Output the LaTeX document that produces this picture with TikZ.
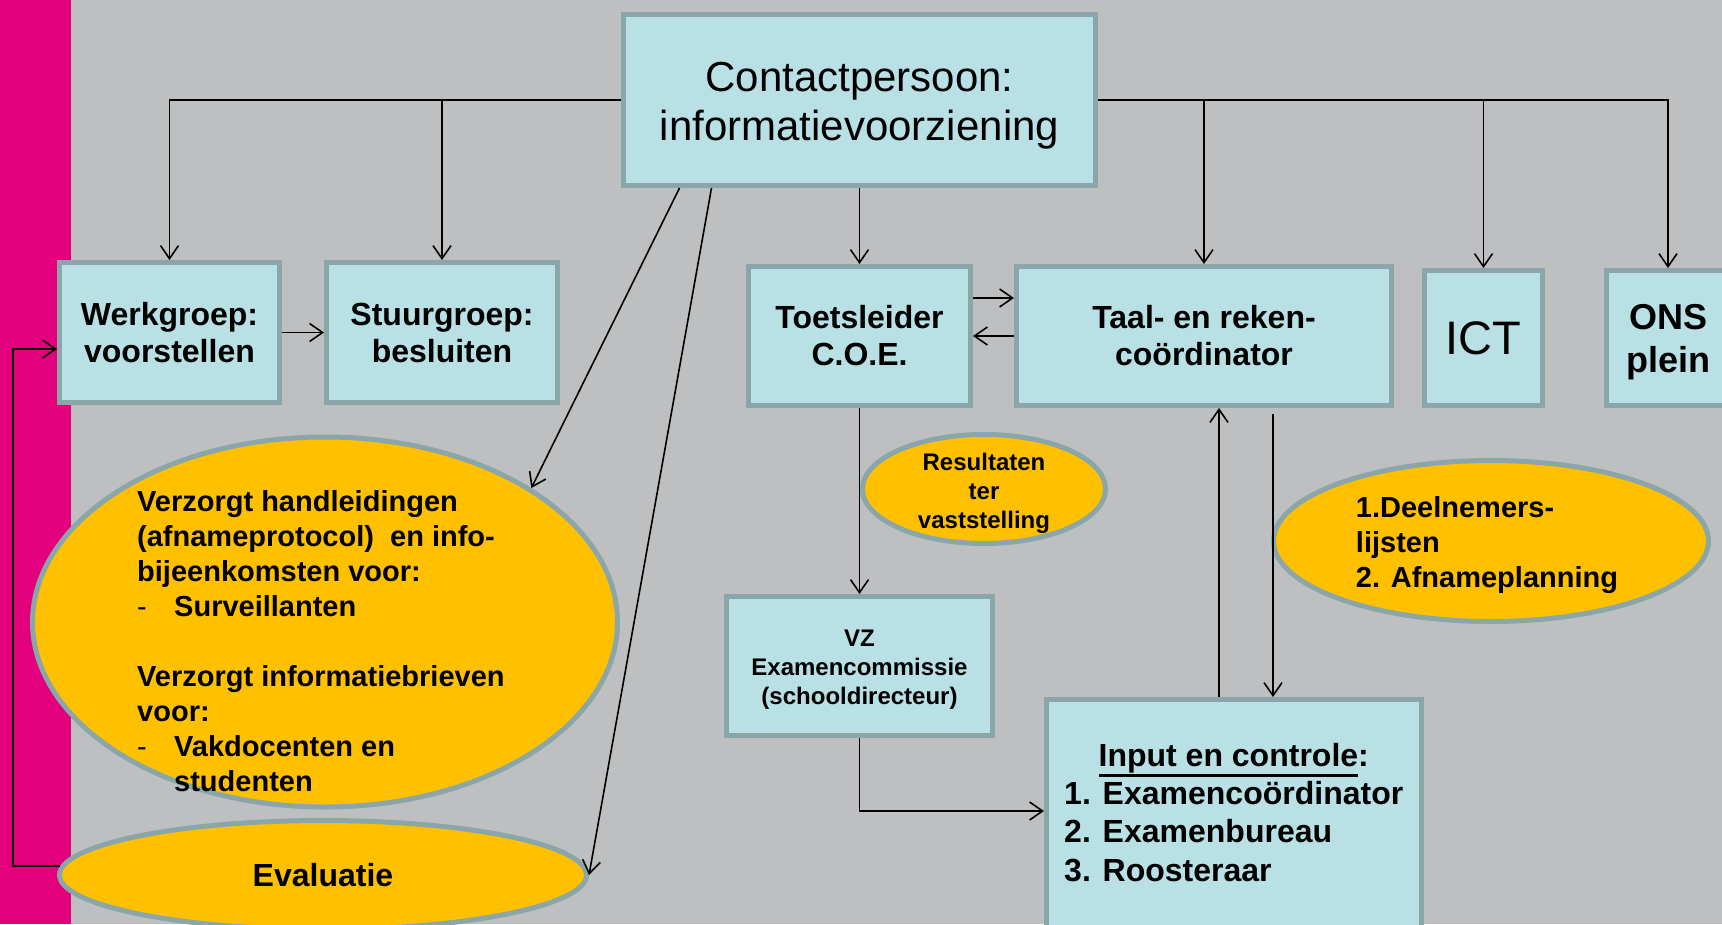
\documentclass[tikz,border=0pt]{standalone}
\usepackage{fontspec}
\setmainfont{Liberation Sans}
\usetikzlibrary{shapes.geometric,arrows.meta,calc}
\definecolor{bg}{RGB}{190,191,193}
\definecolor{pinkbar}{RGB}{227,0,124}
\definecolor{boxfill}{RGB}{185,224,228}
\definecolor{boxline}{RGB}{138,166,169}
\definecolor{ovalfill}{RGB}{255,192,0}
\newcommand\fsz[2]{\fontsize{#1}{#2}\selectfont}
\newcommand\dashitem[1]{\makebox[37pt][l]{\mdseries-}#1}
\newcommand\thickul[1]{\vtop{\hbox{#1}\kern1.5pt\hrule height 2.6pt}}
\tikzset{
  box/.style={draw=boxline, fill=boxfill, line width=5pt, inner sep=0pt, align=center, text=black},
  oval/.style={ellipse, draw=boxline, fill=ovalfill, line width=5pt, inner sep=0pt, text=black},
  conn/.style={line width=1.6pt, -{Straight Barb[length=13pt,width=18pt,line width=1.6pt]}},
  txt/.style={inner sep=0pt, text=black, align=center}
}
\begin{document}
\begin{tikzpicture}[x=1pt,y=-1pt]
\useasboundingbox (0,0) rectangle (1722,924);
\clip (0,0) rectangle (1722,924);
\fill[bg] (0,0) rectangle (1722,924);
\fill[pinkbar] (0,0) rectangle (71,924);

% boxes
\node[box, minimum width=472pt, minimum height=171pt] (contact) at (859.5,100) {};
\node[txt, font=\fsz{42}{49}] (contacttext) at (859.5,106) {Contactpersoon:\\informatievoorziening};
\node[box, minimum width=220pt, minimum height=140pt, font=\bfseries\fsz{32}{37}] (werk) at (169.5,332.5) {Werkgroep:\\voorstellen};
\node[box, minimum width=231pt, minimum height=140pt, font=\bfseries\fsz{32}{37}] (stuur) at (442,332.5) {Stuurgroep:\\besluiten};
\node[box, minimum width=222pt, minimum height=139pt, font=\bfseries\fsz{32}{37}] (toets) at (859.5,336) {Toetsleider\\C.O.E.};
\node[box, minimum width=375pt, minimum height=139pt, font=\bfseries\fsz{32}{37}] (taal) at (1204,336) {Taal- en reken-\\coördinator};
\node[box, minimum width=118pt, minimum height=135pt, font=\fsz{47}{56}] (ict) at (1483.5,338) {ICT};
\node[box, minimum width=123pt, minimum height=135pt] (ons) at (1668,338) {};
\node[txt, font=\bfseries\fsz{36}{43}] (onstext) at (1668,342) {ONS\\plein};
\node[box, minimum width=266pt, minimum height=139pt] (vz) at (859.5,666) {};
\node[txt, font=\bfseries\fsz{24}{29}] (vztext) at (859.5,669.5) {VZ\\Examencommissie\\(schooldirecteur)};
\node[box, minimum width=375pt, minimum height=233pt] (input) at (1234,816) {};
\node[txt, anchor=base west, font=\bfseries\fsz{32}{38.4}] (inputtext) at (1064,766)
  {\begin{tabular}[t]{@{}l@{}}\multicolumn{1}{@{}c@{}}{\thickul{Input en controle}:}\\1. Examencoördinator\\2. Examenbureau\\3. Roosteraar\end{tabular}};

% ovals
\node[oval, minimum width=585pt, minimum height=370pt] (big) at (325,622) {};
\node[txt, anchor=base west, font=\bfseries\fsz{29}{35}] (bigtext) at (137,511)
  {\begin{tabular}[t]{@{}l@{}}Verzorgt handleidingen\\(afnameprotocol)\ \ en info-\\bijeenkomsten voor:\\\dashitem{Surveillanten}\\ \\Verzorgt informatiebrieven\\voor:\\\dashitem{Vakdocenten en}\\\makebox[37pt]{}studenten\end{tabular}};
\node[oval, minimum width=527pt, minimum height=109pt, font=\bfseries\fsz{32}{38}] (eval) at (323,875) {Evaluatie};
\node[oval, minimum width=243pt, minimum height=109pt] (res) at (984,489) {};
\node[txt, font=\bfseries\fsz{24}{29}] (restext) at (984,494)
  {\begin{tabular}{@{}c@{}}Resultaten\\ter\\vaststelling\end{tabular}};
\node[oval, minimum width=435pt, minimum height=161pt] (deel) at (1491,541) {};
\node[txt, font=\bfseries\fsz{29}{35}] (deeltext) at (1487,545)
  {\begin{tabular}{@{}l@{}}1.Deelnemers-\\lijsten\\2. Afnameplanning\end{tabular}};

% connectors
\draw[conn] (contact.west) -| (werk.north);
\draw[conn] (contact.west -| stuur.north) -- (stuur.north);
\draw[conn] (contact.east) -| (ons.north);
\draw[conn] (contact.east -| taal.north) -- (taal.north);
\draw[conn] (contact.east -| ict.north) -- (ict.north);
\draw[conn] (contact.south) -- (toets.north);
\draw[conn] ($(contact.south)+(-180,0)$) -- (big.33);
\draw[conn] ($(contact.south)+(-148,0)$) -- (eval.east);
\draw[conn] (werk.east) -- (stuur.west);
\draw[conn] ($(toets.east)+(0,-38)$) -- ($(taal.west)+(0,-38)$);
\draw[conn] (taal.west) -- (toets.east);
\draw[conn] (toets.south) -- (vz.north);
\draw[conn] (vz.south) |- ($(input.west)+(0,-5)$);
\coordinate (upA) at ($(input.north)+(-15,0)$);
\draw[conn] (upA) -- (upA |- taal.south);
\coordinate (dnA) at ($(input.north)+(39,0)$);
\coordinate (dnTop) at (dnA |- taal.south);
\draw[conn] ($(dnTop)+(0,6)$) -- (dnA);
\coordinate (loopB) at (13,349);
\draw[conn] (eval.178) -| (loopB) -- (loopB -| werk.west);
\end{tikzpicture}
\end{document}
